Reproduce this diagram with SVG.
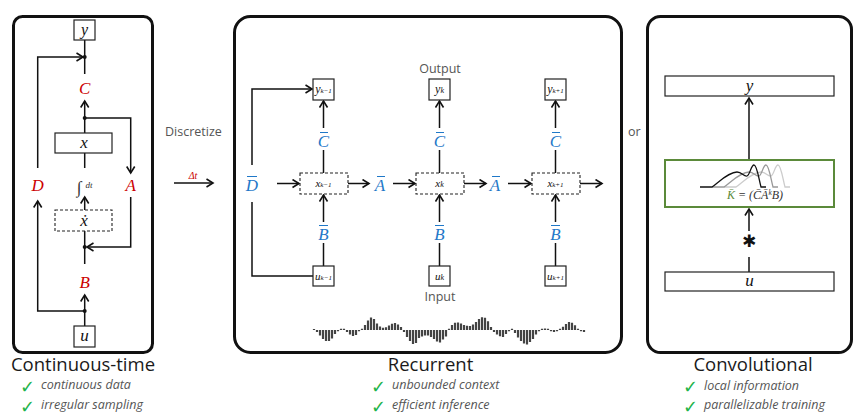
<svg xmlns="http://www.w3.org/2000/svg" width="862" height="419" viewBox="0 0 862 419">
<defs>
<marker id="ar" markerUnits="userSpaceOnUse" markerWidth="12" markerHeight="12" refX="7.5" refY="5" orient="auto">
<path d="M1,1 L7.5,5 L1,9" fill="none" stroke="#111" stroke-width="1.6"/>
</marker>
<style>
.panel{fill:none;stroke:#111;stroke-width:3}
.box{fill:#fff;stroke:#222;stroke-width:1.2}
.dbox{fill:#fff;stroke:#222;stroke-width:1.1;stroke-dasharray:3 2}
.ln{fill:none;stroke:#111;stroke-width:1.5}
.arr{fill:none;stroke:#111;stroke-width:1.5;marker-end:url(#ar)}
.math{font-family:"Liberation Serif","DejaVu Serif",serif;font-style:italic;text-anchor:middle}
.red{fill:#cc0000;font-size:17px}
.blue{fill:#1f78c8;font-size:17px}
.bar{stroke-width:1;fill:none}
.lbl{font-family:"Open Sans","Liberation Sans",sans-serif;font-size:12.5px;fill:#555}
.title{font-family:"Open Sans","Liberation Sans",sans-serif;font-size:18.5px;fill:#1a1a1a;text-anchor:middle}
.item{font-family:"Open Sans","Liberation Sans",sans-serif;font-size:12.5px;font-style:italic;fill:#555}
.chk{font-family:"DejaVu Sans",sans-serif;font-size:18px;fill:#22b34a}
.dot{fill:#111}
</style>
</defs>

<!-- LEFT PANEL: Continuous-time -->
<g id="panel-continuous">
<rect class="panel" x="13.5" y="16.5" width="139" height="336" rx="9"/>
</g>
<g id="cont-connectors">
<path class="ln" d="M84.7,40 V74"/>
<path class="arr" d="M37.7,168 V57 H83"/>
<path class="arr" d="M84.7,118 V101"/>
<path class="ln" d="M84.7,118 V133"/>
<path class="arr" d="M84.7,118 H130.7 V173"/>
<path class="ln" d="M84.7,153 V168"/>
<path class="arr" d="M84.7,210 V197"/>
<path class="ln" d="M84.7,231 V264"/>
<path class="arr" d="M130.7,197 V247 H87"/>
<path class="arr" d="M84.7,311 V295"/>
<path class="ln" d="M84.7,326 V311"/>
<path class="arr" d="M84.7,311 H37.7 V201"/>
<circle class="dot" cx="84.7" cy="57" r="2"/>
<circle class="dot" cx="84.7" cy="118" r="2"/>
<circle class="dot" cx="84.7" cy="247" r="2"/>
<circle class="dot" cx="84.7" cy="311" r="2"/>
</g>
<g id="node-y">
<rect class="box" x="74" y="20" width="21" height="20"/>
<text class="math" x="84.5" y="34.5" font-size="16" fill="#111">y</text>
</g>
<g id="node-C"><text class="math red" x="84.7" y="94">C</text></g>
<g id="node-x">
<rect class="box" x="55" y="133" width="57" height="20"/>
<text class="math" x="84" y="148" font-size="17" fill="#111">x</text>
</g>
<g id="node-int">
<text class="math" x="79" y="193" font-size="17" fill="#333">∫</text>
<text class="math" x="89" y="188" font-size="9" fill="#333">dt</text>
</g>
<g id="node-D"><text class="math red" x="37.7" y="191">D</text></g>
<g id="node-A"><text class="math red" x="130.7" y="191">A</text></g>
<g id="node-xdot">
<rect class="dbox" x="55" y="210" width="57" height="21"/>
<text class="math" x="84" y="226" font-size="17" fill="#111">ẋ</text>
</g>
<g id="node-B"><text class="math red" x="84.7" y="288">B</text></g>
<g id="node-u">
<rect class="box" x="74" y="326" width="21" height="21"/>
<text class="math" x="84.5" y="341" font-size="17" fill="#111">u</text>
</g>
<g id="caption-continuous">
<text class="title" x="83" y="371">Continuous-time</text>
<text class="chk" x="20" y="393">✓</text>
<text class="item" x="41" y="389">continuous data</text>
<text class="chk" x="20" y="413">✓</text>
<text class="item" x="41" y="409">irregular sampling</text>
</g>

<!-- Discretize -->
<g id="discretize">
<text class="lbl" x="165" y="136">Discretize</text>
<text class="math" x="193" y="179" font-size="10" fill="#cc0000">Δt</text>
<path class="arr" d="M174,183 H213"/>
</g>

<!-- MIDDLE PANEL: Recurrent -->
<g id="panel-recurrent">
<rect class="panel" x="234.5" y="16.5" width="387" height="336" rx="16"/>
</g>
<g id="rec-connectors">
<path class="arr" d="M252,165 V89 H312"/>
<path class="ln" d="M252,202 V276 H313"/>
<path class="arr" d="M277,183.5 H299"/>
<path class="arr" d="M348,183.5 H369"/>
<path class="arr" d="M393,183.5 H415"/>
<path class="arr" d="M464,183.5 H486"/>
<path class="arr" d="M508,183.5 H531"/>
<path class="arr" d="M580,183.5 H602"/>
<path class="ln" d="M323.5,173 V150"/><path class="arr" d="M323.5,128 V101"/>
<path class="ln" d="M439.5,173 V150"/><path class="arr" d="M439.5,128 V101"/>
<path class="ln" d="M555.5,173 V150"/><path class="arr" d="M555.5,128 V101"/>
<path class="ln" d="M323.5,266 V243"/><path class="arr" d="M323.5,222 V195"/>
<path class="ln" d="M439.5,266 V243"/><path class="arr" d="M439.5,222 V195"/>
<path class="ln" d="M555.5,266 V243"/><path class="arr" d="M555.5,222 V195"/>
</g>
<g id="node-Dbar"><text class="math blue" x="252" y="191">D</text><line class="bar" x1="247" y1="176.5" x2="257" y2="176.5" stroke="#1f78c8"/></g>
<g id="node-Abar1"><text class="math blue" x="380" y="191">A</text><line class="bar" x1="377" y1="176.5" x2="385" y2="176.5" stroke="#1f78c8"/></g>
<g id="node-Abar2"><text class="math blue" x="495" y="191">A</text><line class="bar" x1="492" y1="176.5" x2="500" y2="176.5" stroke="#1f78c8"/></g>
<g id="node-Cbar1"><text class="math blue" x="323.5" y="147">C</text><line class="bar" x1="320" y1="132.5" x2="328" y2="132.5" stroke="#1f78c8"/></g>
<g id="node-Cbar2"><text class="math blue" x="439.5" y="147">C</text><line class="bar" x1="436" y1="132.5" x2="444" y2="132.5" stroke="#1f78c8"/></g>
<g id="node-Cbar3"><text class="math blue" x="555.5" y="147">C</text><line class="bar" x1="552" y1="132.5" x2="560" y2="132.5" stroke="#1f78c8"/></g>
<g id="node-Bbar1"><text class="math blue" x="323.5" y="240">B</text><line class="bar" x1="319" y1="225.5" x2="328" y2="225.5" stroke="#1f78c8"/></g>
<g id="node-Bbar2"><text class="math blue" x="439.5" y="240">B</text><line class="bar" x1="435" y1="225.5" x2="444" y2="225.5" stroke="#1f78c8"/></g>
<g id="node-Bbar3"><text class="math blue" x="555.5" y="240">B</text><line class="bar" x1="551" y1="225.5" x2="560" y2="225.5" stroke="#1f78c8"/></g>
<g id="node-y-km1">
<rect class="box" x="313" y="79" width="21" height="21"/>
<text class="math" x="323.5" y="93" font-size="12" fill="#111">y<tspan font-size="7">k−1</tspan></text>
</g>
<g id="node-y-k">
<rect class="box" x="429" y="79" width="21" height="21"/>
<text class="math" x="439.5" y="93" font-size="12" fill="#111">y<tspan font-size="8">k</tspan></text>
</g>
<g id="node-y-kp1">
<rect class="box" x="545" y="79" width="21" height="21"/>
<text class="math" x="555.5" y="93" font-size="12" fill="#111">y<tspan font-size="7">k+1</tspan></text>
</g>
<g id="node-x-km1">
<rect class="dbox" x="300" y="173" width="48" height="21"/>
<text class="math" x="323.5" y="187" font-size="11" fill="#111">x<tspan font-size="7">k−1</tspan></text>
</g>
<g id="node-x-k">
<rect class="dbox" x="416" y="173" width="48" height="21"/>
<text class="math" x="439.5" y="187" font-size="11" fill="#111">x<tspan font-size="8">k</tspan></text>
</g>
<g id="node-x-kp1">
<rect class="dbox" x="532" y="173" width="48" height="21"/>
<text class="math" x="555.5" y="187" font-size="11" fill="#111">x<tspan font-size="7">k+1</tspan></text>
</g>
<g id="node-u-km1">
<rect class="box" x="313" y="266" width="21" height="20"/>
<text class="math" x="323.5" y="280" font-size="11" fill="#111">u<tspan font-size="7">k−1</tspan></text>
</g>
<g id="node-u-k">
<rect class="box" x="429" y="266" width="21" height="20"/>
<text class="math" x="439.5" y="280" font-size="11" fill="#111">u<tspan font-size="8">k</tspan></text>
</g>
<g id="node-u-kp1">
<rect class="box" x="545" y="266" width="21" height="20"/>
<text class="math" x="555.5" y="280" font-size="11" fill="#111">u<tspan font-size="7">k+1</tspan></text>
</g>
<g id="labels-io">
<text class="lbl" x="440" y="73" text-anchor="middle">Output</text>
<text class="lbl" x="440" y="301" text-anchor="middle">Input</text>
</g>
<g id="waveform" fill="none" stroke="#444" stroke-width="2.2">
<path d="M314,330V329 M317,330V332 M320,330V335.5 M323,330V339 M326,330V341 M329,330V341 M332,330V338.5 M335,330V334 M338,330V331.2 M341,330V328.8 M344,330V328.8 M347,330V332 M350,330V334.5 M353,330V336 M356,330V335 M359,330V331.2 M362,330V328.8 M365,330V325 M368,330V320.5 M371,330V317.5 M374,330V319 M377,330V323.5 M380,330V326.5 M383,330V327.7 M386,330V327.3 M389,330V325.5 M392,330V323.7 M395,330V323 M398,330V324.5 M401,330V327 M404,330V332 M407,330V337 M410,330V341 M413,330V344 M416,330V343 M419,330V338 M422,330V336.5 M425,330V335.5 M428,330V335.5 M431,330V337 M434,330V339 M437,330V341.5 M440,330V342.5 M443,330V339.5 M446,330V336.5 M449,330V328.8 M452,330V325 M455,330V322.7 M458,330V322.5 M461,330V323.5 M464,330V325 M467,330V325.8 M470,330V326 M473,330V324.5 M476,330V322 M479,330V319 M482,330V317.3 M485,330V317.7 M488,330V321.3 M491,330V327 M494,330V332 M497,330V334.5 M500,330V336.3 M503,330V337 M506,330V334 M509,330V331.2 M512,330V328.8 M515,330V333 M518,330V337.5 M521,330V341 M524,330V343.5 M527,330V344.5 M530,330V342 M533,330V339 M536,330V334.5 M539,330V331.2 M542,330V328.8 M545,330V328.6 M548,330V328.8 M551,330V331.2 M554,330V332 M557,330V331.2 M560,330V328.8 M563,330V326.7 M566,330V324 M569,330V322 M572,330V322.7 M575,330V325.3 M578,330V328.7 M581,330V331.2 M584,330V332"/>
</g>
<g id="caption-recurrent">
<text class="title" x="430.5" y="371">Recurrent</text>
<text class="chk" x="371" y="393">✓</text>
<text class="item" x="392" y="389">unbounded context</text>
<text class="chk" x="371" y="413">✓</text>
<text class="item" x="392" y="409">efficient inference</text>
</g>

<text class="lbl" x="628" y="136">or</text>

<!-- RIGHT PANEL: Convolutional -->
<g id="panel-convolutional">
<rect class="panel" x="647.5" y="16.5" width="204" height="336" rx="13"/>
</g>
<g id="conv-connectors">
<path class="arr" d="M749,160 V98"/>
<path class="ln" d="M749,272 V257"/>
<path class="arr" d="M749,231 V209"/>
</g>
<g id="node-conv-y">
<rect class="box" x="665" y="76" width="169" height="20"/>
<text class="math" x="749.5" y="91" font-size="17" fill="#111">y</text>
</g>
<g id="node-kernel">
<rect x="665" y="160" width="169" height="47" fill="#fff" stroke="#5b8a3a" stroke-width="2"/>
<path d="M700,187 L712,187 C718,183 728,172 737,172 C742,172 744,177 747,176 C750,175 751,165 754,165 C757,165 759,180 761,187 L766,187" fill="none" stroke="#ccc" stroke-width="1.3" transform="translate(24,0)"/>
<path d="M700,187 L712,187 C718,183 728,172 737,172 C742,172 744,177 747,176 C750,175 751,165 754,165 C757,165 759,180 761,187 L766,187" fill="none" stroke="#999" stroke-width="1.3" transform="translate(12,0)"/>
<path d="M700,187 L712,187 C718,183 728,172 737,172 C742,172 744,177 747,176 C750,175 751,165 754,165 C757,165 759,180 761,187 L766,187" fill="none" stroke="#111" stroke-width="1.3"/>
<text x="755" y="199" font-family="Liberation Serif, DejaVu Serif, serif" font-style="italic" font-size="12" fill="#333" text-anchor="middle"><tspan fill="#5b8a3a">K̄</tspan> = (C̄Ā<tspan font-size="7.5" dy="-4">k</tspan><tspan dy="4">B)</tspan></text>
</g>
<g id="node-star">
<text x="749" y="247" font-family="DejaVu Sans, sans-serif" font-size="17" fill="#111" text-anchor="middle">✱</text>
</g>
<g id="node-conv-u">
<rect class="box" x="665" y="272" width="169" height="19"/>
<text class="math" x="749.5" y="286" font-size="17" fill="#111">u</text>
</g>
<g id="caption-convolutional">
<text class="title" x="753" y="371">Convolutional</text>
<text class="chk" x="683" y="393">✓</text>
<text class="item" x="704" y="390">local information</text>
<text class="chk" x="683" y="413">✓</text>
<text class="item" x="704" y="409">parallelizable training</text>
</g>
</svg>
